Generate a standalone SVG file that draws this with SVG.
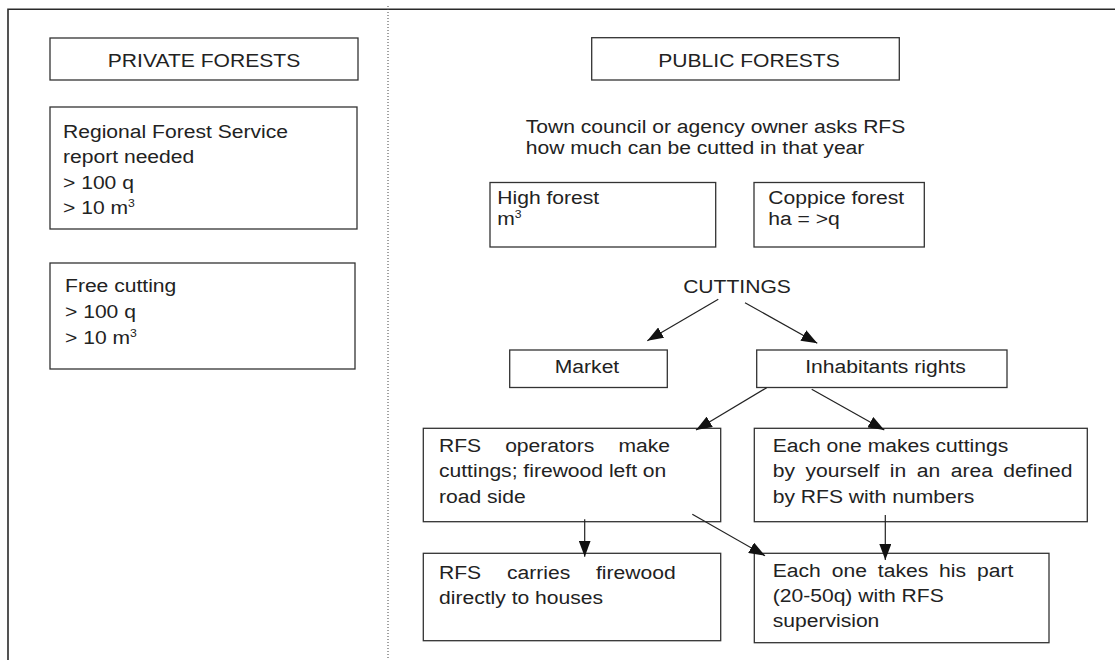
<svg xmlns="http://www.w3.org/2000/svg" width="1115" height="660" viewBox="0 0 1115 660">
  <defs>
    <style>
      .box { fill: #fff; stroke: #333; stroke-width: 1.3; }
      .frame { fill: none; stroke: #2a2a2a; stroke-width: 1.6; }
      .divider { fill: none; stroke: #444; stroke-width: 1; stroke-dasharray: 1 2; }
      .link { fill: none; stroke: #222; stroke-width: 1.2; marker-end: url(#arrow); }
      text { font-family: "Liberation Sans", Arial, sans-serif; font-size: 19px; fill: #222; }
      .mid { text-anchor: middle; }
      .sup { font-size: 11px; }
    </style>
    <marker id="arrow" markerUnits="userSpaceOnUse" viewBox="0 0 16 12" refX="16" refY="6" markerWidth="16" markerHeight="12" orient="auto">
      <path d="M0,0 L16,6 L0,12 z" fill="#111"/>
    </marker>
  </defs>

  <rect width="1115" height="660" fill="#fff"/>

  <!-- page frame and column divider -->
  <g id="frame">
    <path class="frame" d="M8,660 L8,9.3 L1115,9.3"/>
    <line class="divider" x1="388" y1="6" x2="388" y2="660"/>
  </g>

  <!-- left column -->
  <g id="private-title">
    <rect class="box" x="50" y="38" width="308" height="42"/>
    <text class="mid" transform="translate(204,67) scale(1.11,1)">PRIVATE FORESTS</text>
  </g>
  <g id="report-needed">
    <rect class="box" x="50" y="107" width="307" height="122"/>
    <text transform="translate(63,138) scale(1.11,1)">
      <tspan x="0" y="0">Regional Forest Service</tspan>
      <tspan x="0" y="25.5">report needed</tspan>
      <tspan x="0" y="51">&gt; 100 q</tspan>
      <tspan x="0" y="76">&gt; 10 m<tspan class="sup" dy="-7">3</tspan></tspan>
    </text>
  </g>
  <g id="free-cutting">
    <rect class="box" x="50" y="263" width="305" height="106"/>
    <text transform="translate(65,292) scale(1.11,1)">
      <tspan x="0" y="0">Free cutting</tspan>
      <tspan x="0" y="26">&gt; 100 q</tspan>
      <tspan x="0" y="52">&gt; 10 m<tspan class="sup" dy="-7">3</tspan></tspan>
    </text>
  </g>

  <!-- right column -->
  <g id="public-title">
    <rect class="box" x="591.7" y="37.7" width="307.6" height="42.3"/>
    <text class="mid" transform="translate(749,67) scale(1.11,1)">PUBLIC FORESTS</text>
  </g>
  <g id="owner-request">
    <text transform="translate(525.7,133) scale(1.11,1)">
      <tspan x="0" y="0">Town council or agency owner asks RFS</tspan>
      <tspan x="0" y="21.5">how much can be cutted in that year</tspan>
    </text>
  </g>
  <g id="high-forest">
    <rect class="box" x="490" y="182.5" width="225.7" height="64.5"/>
    <text transform="translate(497.3,204) scale(1.11,1)">
      <tspan x="0" y="0">High forest</tspan>
      <tspan x="0" y="21">m<tspan class="sup" dy="-7">3</tspan></tspan>
    </text>
  </g>
  <g id="coppice-forest">
    <rect class="box" x="754" y="182.5" width="170.3" height="64.5"/>
    <text transform="translate(768.3,204) scale(1.11,1)">
      <tspan x="0" y="0">Coppice forest</tspan>
      <tspan x="0" y="21">ha = &gt;q</tspan>
    </text>
  </g>
  <g id="cuttings">
    <text class="mid" transform="translate(737,292.5) scale(1.11,1)">CUTTINGS</text>
  </g>
  <g id="market">
    <rect class="box" x="509.7" y="350" width="157.6" height="37.5"/>
    <text class="mid" transform="translate(587,373) scale(1.11,1)">Market</text>
  </g>
  <g id="inhabitants-rights">
    <rect class="box" x="756.7" y="350" width="250.3" height="37.5"/>
    <text class="mid" transform="translate(885.5,373) scale(1.11,1)">Inhabitants rights</text>
  </g>
  <g id="rfs-operators">
    <rect class="box" x="423.3" y="428.3" width="297.4" height="93.4"/>
    <text transform="translate(439,451.7) scale(1.11,1)">
      <tspan x="0" y="0">RFS</tspan><tspan x="59.6" y="0">operators</tspan><tspan x="161.6" y="0">make</tspan>
      <tspan x="0" y="25.5">cuttings; firewood left on</tspan>
      <tspan x="0" y="51">road side</tspan>
    </text>
  </g>
  <g id="own-cuttings">
    <rect class="box" x="754.3" y="428.3" width="333" height="93.4"/>
    <text transform="translate(772.7,451.7) scale(1.11,1)">
      <tspan x="0" y="0">Each one makes cuttings</tspan>
      <tspan x="0" y="25.5">by</tspan><tspan x="29.5" y="25.5">yourself</tspan><tspan x="105.5" y="25.5">in</tspan><tspan x="129.7" y="25.5">an</tspan><tspan x="160.4" y="25.5">area</tspan><tspan x="207.8" y="25.5">defined</tspan>
      <tspan x="0" y="51">by RFS with numbers</tspan>
    </text>
  </g>
  <g id="rfs-carries">
    <rect class="box" x="423.3" y="553.3" width="297.4" height="87.4"/>
    <text transform="translate(439,579.3) scale(1.11,1)">
      <tspan x="0" y="0">RFS</tspan><tspan x="61.2" y="0">carries</tspan><tspan x="141.4" y="0">firewood</tspan>
      <tspan x="0" y="24.7">directly to houses</tspan>
    </text>
  </g>
  <g id="takes-part">
    <rect class="box" x="754.3" y="553.3" width="294.7" height="89.4"/>
    <text transform="translate(772.7,576.7) scale(1.11,1)">
      <tspan x="0" y="0">Each</tspan><tspan x="53.2" y="0">one</tspan><tspan x="94.7" y="0">takes</tspan><tspan x="149.9" y="0">his</tspan><tspan x="184.1" y="0">part</tspan>
      <tspan x="0" y="25">(20-50q) with RFS</tspan>
      <tspan x="0" y="50">supervision</tspan>
    </text>
  </g>

  <!-- connectors -->
  <g id="connectors">
    <line class="link" x1="718.3" y1="299.3" x2="647.3" y2="340.7"/>
    <line class="link" x1="745" y1="302.7" x2="817.3" y2="343.3"/>
    <line class="link" x1="766.7" y1="387.7" x2="696" y2="430"/>
    <line class="link" x1="811.7" y1="389.3" x2="884.3" y2="430"/>
    <line class="link" x1="584.7" y1="519.3" x2="584.7" y2="556.7"/>
    <line class="link" x1="692.3" y1="514.3" x2="765" y2="555.7"/>
    <line class="link" x1="885.3" y1="515" x2="885.3" y2="560"/>
  </g>
</svg>
